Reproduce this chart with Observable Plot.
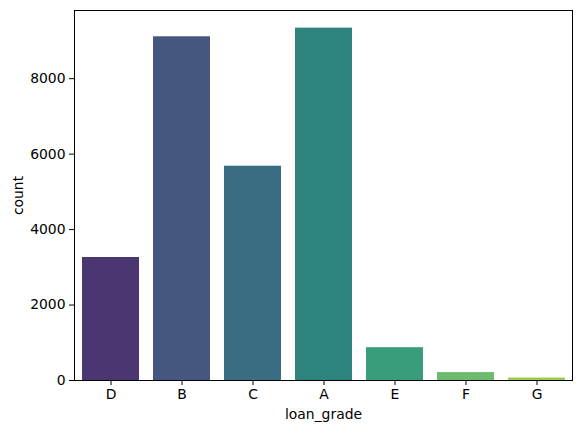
<!DOCTYPE html>
<html>
<head>
<meta charset="utf-8">
<script src="https://cdn.jsdelivr.net/npm/d3@7"></script>
<script src="https://cdn.jsdelivr.net/npm/@observablehq/plot@0.6"></script>
<style>
  html, body { margin: 0; padding: 0; background: white; }
</style>
</head>
<body>
<div id="chart"></div>
<script>
const grades = ["D", "B", "C", "A", "E", "F", "G"];
const counts = [3260, 9110, 5680, 9340, 870, 210, 65];
const yTicks = [0, 2000, 4000, 6000, 8000];
const palette = ["#4a3771", "#455681", "#386d82", "#2f837f", "#399d7b", "#6bbc6e", "#a3c746"];

const data = grades.map((g, i) => ({grade: g, count: counts[i]}));
const ymax = d3.max(counts) * 1.05;

const chart = Plot.plot({
  width: 580,
  height: 433,
  marginLeft: 74,
  marginRight: 8,
  marginTop: 10,
  marginBottom: 53,
  style: {fontFamily: "DejaVu Sans", fontSize: "13.9px", color: "black", background: "white"},
  x: {domain: grades, paddingInner: 0.2, paddingOuter: 0.1},
  y: {domain: [0, ymax]},
  color: {domain: grades, range: palette},
  marks: [
    Plot.barY(data, {x: "grade", y: "count", fill: "grade"}),
    Plot.frame({stroke: "black", strokeWidth: 1}),
    Plot.axisX({tickSize: 5, tickPadding: 4, label: "loan_grade", labelAnchor: "center", labelArrow: "none", labelOffset: 38, fontSize: 13.9}),
    Plot.axisY({ticks: yTicks, tickFormat: d => String(d), tickSize: 5, tickPadding: 4, label: "count", labelAnchor: "center", labelArrow: "none", labelOffset: 61, fontSize: 13.9})
  ]
});
document.getElementById("chart").appendChild(chart);
</script>
</body>
</html>
